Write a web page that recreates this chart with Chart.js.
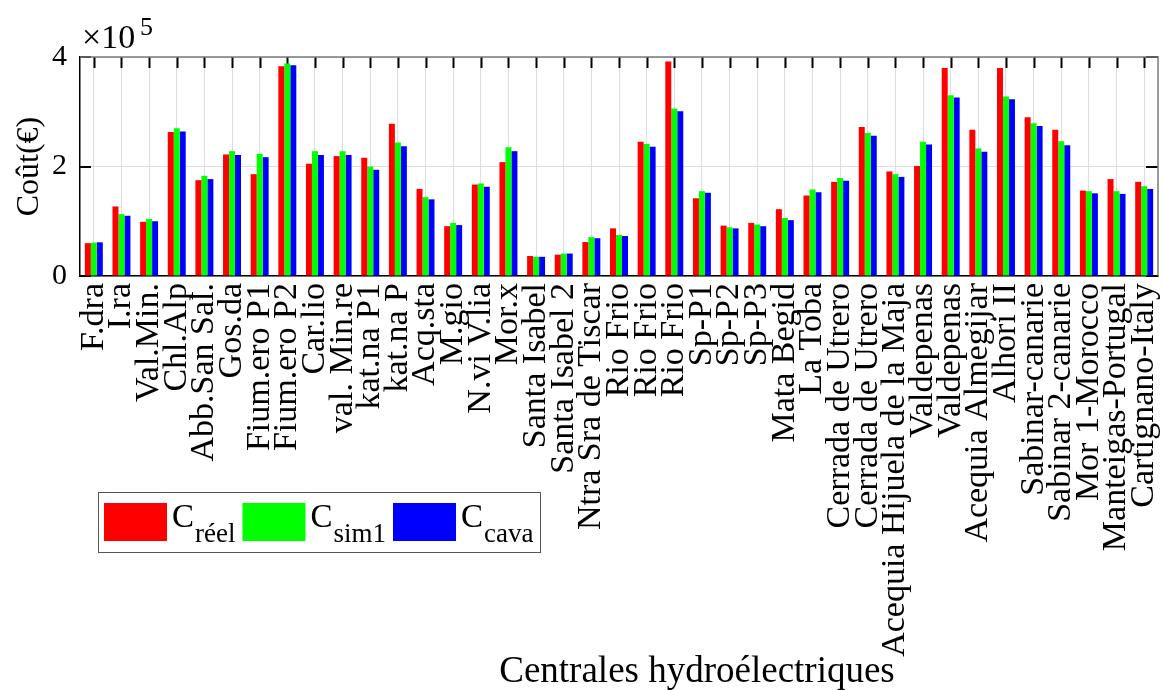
<!DOCTYPE html>
<html>
<head>
<meta charset="utf-8">
<script src="https://cdn.jsdelivr.net/npm/chart.js@4.4.1/dist/chart.umd.min.js"></script>
<style>
  html, body { margin: 0; padding: 0; background: #fff; }
  #wrap { width: 1163px; height: 690px; }
</style>
</head>
<body>
<div id="wrap"><canvas id="chartroot" width="1163" height="690"></canvas></div>
<script>
// centrales
const labels = ['F.dra','I.ra','Val.Min.','Chl.Alp','Abb.San Sal.','Gos.da','Fium.ero P1','Fium.ero P2',
  'Car.lio','val. Min.re','kat.na P1','kat.na P','Acq.sta','M.gio','N.vi V.lia','Mor.x',
  'Santa Isabel','Santa Isabel 2','Ntra Sra de Tiscar','Rio Frio','Rio Frio','Rio Frio',
  'Sp-P1','Sp-P2','Sp-P3','Mata Begid','La Toba','Cerrada de Utrero','Cerrada de Utrero',
  'Acequia Hijuela de la Maja','Valdepenas','Valdepenas','Acequia Almegijar','Alhori II',
  'Sabinar-canarie','Sabinar 2-canarie','Mor 1-Morocco','Manteigas-Portugal','Cartignano-Italy'];

// couts en euros
const cReel = [60000,127000,99000,263000,175000,222000,186000,383000,205000,219000,216000,278000,
  159000,91000,167000,208000,36500,39000,62000,87000,245000,392000,142000,92000,97000,122000,
  147000,172000,272000,191000,201000,380000,267000,380000,290000,267000,156000,177000,172000];
const cSim1 = [61000,113000,104000,270000,183000,228000,223000,388000,228000,228000,200000,244000,
  144000,97000,169000,235000,35000,41000,71000,75000,241000,306000,155000,89000,94000,106000,
  158000,179000,261000,186000,245000,330000,233000,328000,279000,246000,155000,155000,164000];
const cCava = [61500,110000,100000,264000,177000,221000,217000,385000,221000,221000,194000,237000,
  140000,93000,163000,228000,35000,41000,69000,73000,236000,301000,152000,87000,91000,102000,
  153000,174000,256000,181000,240000,326000,227000,323000,274000,239000,151000,150000,159000];

const legendSubs = ['réel','sim1','cava'];
const yTicks = [0, 200000, 400000];

const serif = '"Liberation Serif", "Times New Roman", serif';

// ticks vers l'interieur, cadre, legende, titre x
const frame = {
    id: 'frame',
    beforeDatasetsDraw(chart) {
        const {ctx, chartArea: a, scales: {x, y}} = chart;
        ctx.save();
        ctx.strokeStyle = '#000';
        ctx.lineWidth = 2;
        ctx.beginPath();
        labels.forEach((l, i) => {
            const px = Math.round(x.getPixelForTick(i)) + 0.5;
            ctx.moveTo(px, a.top); ctx.lineTo(px, a.top + 11);
            ctx.moveTo(px, a.bottom); ctx.lineTo(px, a.bottom - 11);
        });
        yTicks.forEach(v => {
            const py = Math.round(y.getPixelForValue(v));
            ctx.moveTo(a.left, py); ctx.lineTo(a.left + 11, py);
            ctx.moveTo(a.right, py); ctx.lineTo(a.right - 12, py);
        });
        ctx.stroke();
        ctx.restore();
    },
    afterDraw(chart) {
        const {ctx, chartArea: a} = chart;
        ctx.save();
        // cadre haut et droite
        ctx.strokeStyle = '#7a7a7a';
        ctx.lineWidth = 1.5;
        ctx.beginPath();
        ctx.moveTo(a.left, a.top); ctx.lineTo(a.right, a.top); ctx.lineTo(a.right, a.bottom);
        ctx.stroke();

        // x10^5
        ctx.fillStyle = '#000';
        ctx.textBaseline = 'alphabetic';
        ctx.textAlign = 'left';
        ctx.font = '34px ' + serif;
        ctx.fillText('\u00d710', 82, 48);
        ctx.font = '26px ' + serif;
        ctx.fillText('5', 140, 35);

        // titre axe x
        ctx.font = '37px ' + serif;
        ctx.textAlign = 'center';
        ctx.fillText('Centrales hydroélectriques', 697, 682);

        // legende
        ctx.textAlign = 'left';
        ctx.strokeStyle = '#555';
        ctx.lineWidth = 1;
        ctx.fillStyle = '#fff';
        ctx.fillRect(98, 492, 442, 60);
        ctx.strokeRect(98.5, 492.5, 442, 60);
        let lx = 104;
        chart.data.datasets.forEach((ds, i) => {
            ctx.fillStyle = ds.backgroundColor;
            ctx.fillRect(lx, 503, 63, 38);
            lx += 63 + 5;
            ctx.fillStyle = '#000';
            ctx.font = '33px ' + serif;
            ctx.fillText('C', lx, 527);
            lx += ctx.measureText('C').width + 1;
            ctx.font = '27px ' + serif;
            ctx.fillText(legendSubs[i], lx, 542);
            lx += ctx.measureText(legendSubs[i]).width + 7;
        });
        ctx.restore();
    }
};

const ctx = document.getElementById('chartroot');
new Chart(ctx, {
    type: 'bar',
    data: {
        labels,
        datasets: [
            { label: 'C réel', data: cReel, backgroundColor: '#ff0000' },
            { label: 'C sim1', data: cSim1, backgroundColor: '#00ff00' },
            { label: 'C cava', data: cCava, backgroundColor: '#0000ff' }
        ]
    },
    options: {
        responsive: false,
        animation: false,
        devicePixelRatio: 1,
        layout: { padding: { left: 0, right: 5, top: 57, bottom: 0 } },
        datasets: { bar: { categoryPercentage: 0.65, barPercentage: 1.0, borderWidth: 0 } },
        plugins: { legend: { display: false }, tooltip: { enabled: false } },
        scales: {
            x: {
                grid: { offset: false, drawTicks: false, color: '#dedede', lineWidth: 1 },
                border: { color: '#000', width: 1.5 },
                ticks: {
                    autoSkip: false, minRotation: 90, maxRotation: 90, padding: 7,
                    color: '#000', font: { family: serif, size: 34 }
                },
                afterFit: s => { s.height = 414; s.paddingLeft = 0; s.paddingRight = 0; }
            },
            y: {
                min: 0, max: 400000,
                grid: { drawTicks: false, color: '#dedede', lineWidth: 1 },
                border: { color: '#000', width: 1.5 },
                ticks: {
                    stepSize: 200000, padding: 13, color: '#000',
                    font: { family: serif, size: 30 },
                    callback: v => v / 100000
                },
                title: {
                    display: true, text: 'Coût(€)', color: '#000', padding: { top: 10, bottom: 0 },
                    font: { family: serif, size: 32 }
                },
                afterFit: s => { s.width = 80; s.paddingTop = 0; s.paddingBottom = 0; }
            }
        }
    },
    plugins: [frame]
});
</script>
</body>
</html>
